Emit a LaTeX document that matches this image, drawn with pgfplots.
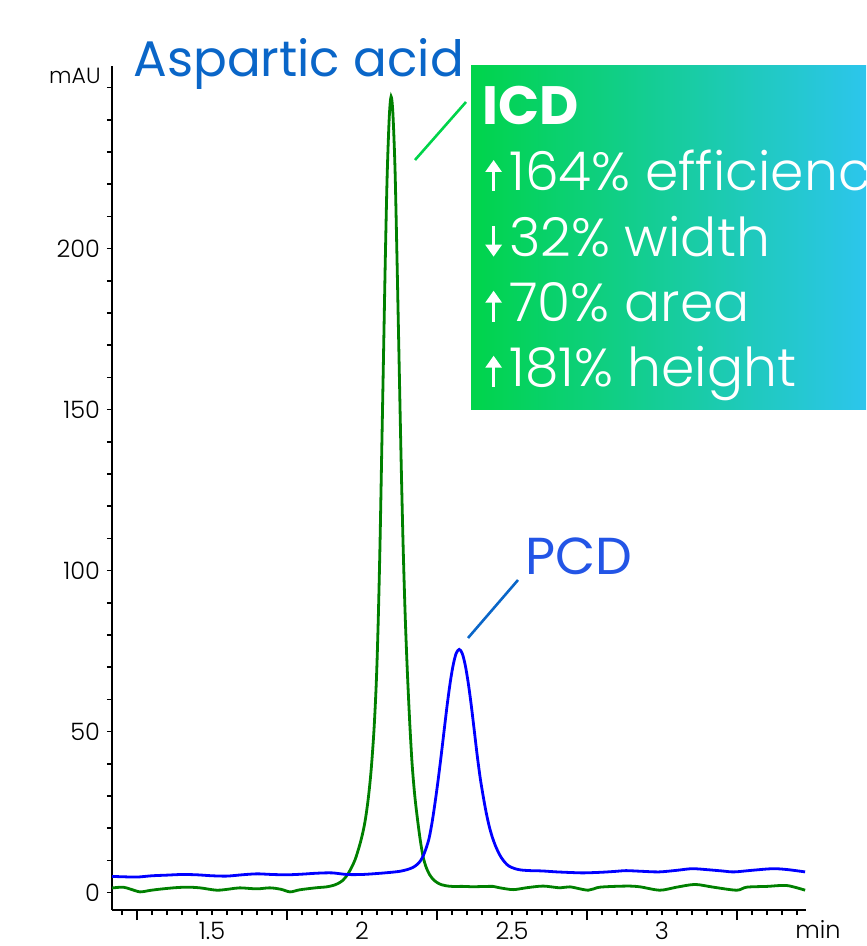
\documentclass[border=0pt]{standalone}
\usepackage{fontspec}
\setmainfont{Poppins}
\newfontfamily\plight{Poppins Light}
\usepackage{pgfplots}
\pgfplotsset{compat=1.18}
\usetikzlibrary{arrows.meta}
\definecolor{cgreen}{RGB}{0,128,0}
\definecolor{cblue}{RGB}{0,0,255}
\definecolor{asptext}{RGB}{10,102,200}
\definecolor{pcdtext}{RGB}{35,85,230}
\definecolor{boxleft}{RGB}{0,212,74}
\definecolor{boxright}{RGB}{48,196,250}
\definecolor{leadgreen}{RGB}{0,212,74}
\begin{document}
\begin{tikzpicture}
\useasboundingbox (-56pt,-18pt) rectangle (377pt,455pt);
\begin{axis}[
  at={(0pt,0pt)}, anchor=south west,
  scale only axis, width=347pt, height=422pt,
  xmin=1.1667, xmax=3.48, ymin=-5.43, ymax=256.7,
  axis x line*=bottom, axis y line*=left,
  axis line style={line width=1.25pt, black},
  xtick={1.5,2,2.5,3}, xticklabels={1.5,2,2.5,3},
  minor xtick={1.2,1.25,1.3,1.35,1.4,1.45,1.55,1.6,1.65,1.7,1.75,1.8,1.85,1.9,1.95,2.05,2.1,2.15,2.2,2.25,2.3,2.35,2.4,2.45,2.55,2.6,2.65,2.7,2.75,2.8,2.85,2.9,2.95,3.05,3.1,3.15,3.2,3.25,3.3,3.35,3.4,3.45},
  ytick={0,50,100,150,200},
  minor ytick={10,20,30,40,60,70,80,90,110,120,130,140,160,170,180,190,210,220,230,240,250},
  extra x ticks={1.25,1.75,2.25,2.75,3.25}, extra x tick labels={},
  extra x tick style={major tick length=5pt},
  tick align=outside, major tick length=2.5pt, minor tick length=2.5pt,
  tick style={black, line width=0.8pt},
  ticklabel style={font=\plight\fontsize{12}{12}\selectfont},
  /pgf/number format/assume math mode=true,
  xticklabel style={yshift=0pt},
]
\addplot[cgreen, line width=1.4pt, smooth] coordinates {
(1.167,1.4) (1.171,1.45) (1.204,1.66) (1.23,1.0) (1.26,0.2) (1.29,0.6) (1.316,0.93)
(1.371,1.45) (1.416,1.66) (1.46,1.45) (1.516,0.72) (1.56,1.1) (1.593,1.45) (1.649,1.14)
(1.693,1.45) (1.73,1.0) (1.76,0.2) (1.79,0.8) (1.816,1.14) (1.85,1.5) (1.882,1.76)
(1.904,2.2) (1.92,2.8) (1.935,3.7) (1.949,5.2) (1.962,7.2) (1.977,10.2) (1.990,14.0)
(2.000,17.5) (2.010,22.0) (2.020,28.5) (2.030,37.5) (2.040,50.5) (2.048,66) (2.054,84)
(2.060,108) (2.066,138) (2.072,168) (2.078,198) (2.084,223) (2.091,241) (2.097,247.2)
(2.103,242) (2.110,225) (2.116,200) (2.123,168) (2.130,136) (2.137,108) (2.144,86)
(2.151,69) (2.159,53) (2.167,40) (2.176,30) (2.186,22) (2.195,15.8) (2.204,11.0)
(2.214,7.8) (2.225,5.6) (2.238,4.0) (2.252,3.0) (2.266,2.4) (2.28,2.1) (2.30,1.9)
(2.337,1.9) (2.371,1.8) (2.437,1.9) (2.46,1.45) (2.504,0.9) (2.55,1.5) (2.604,2.0)
(2.66,1.45) (2.693,1.76) (2.754,0.72) (2.793,1.66) (2.882,2.0) (2.927,1.76) (2.993,0.72)
(3.049,1.66) (3.11,2.5) (3.171,1.66) (3.249,0.72) (3.282,1.66) (3.35,1.9) (3.416,2.17)
(3.477,0.72)
};
\addplot[cblue, line width=1.4pt, smooth] coordinates {
(1.167,5.0) (1.20,4.9) (1.25,4.8) (1.30,5.2) (1.35,5.4) (1.40,5.6) (1.45,5.5) (1.50,5.2)
(1.55,5.1) (1.60,5.5) (1.65,5.8) (1.70,5.6) (1.75,5.5) (1.80,5.7) (1.85,6.0) (1.90,6.1)
(1.95,5.6) (2.00,5.6) (2.05,5.9) (2.10,6.3) (2.127,6.6) (2.15,7.1) (2.17,7.8) (2.185,8.8)
(2.196,10.0) (2.205,11.6) (2.214,13.8) (2.224,17.0) (2.234,22.0) (2.244,28.2) (2.254,35.1)
(2.264,42.6) (2.274,50.5) (2.284,58.3) (2.294,65.2) (2.304,70.7) (2.314,74.3) (2.324,75.5)
(2.334,74.3) (2.344,70.7) (2.354,65.2) (2.364,58.3) (2.374,50.5) (2.384,42.6) (2.394,35.6)
(2.404,29.9) (2.414,24.8) (2.424,20.6) (2.434,17.3) (2.444,14.7) (2.454,12.6) (2.464,10.9)
(2.477,9.3) (2.49,8.2) (2.51,7.4) (2.53,7.0) (2.56,6.8) (2.60,6.7) (2.65,6.4) (2.70,6.2)
(2.74,6.1) (2.80,6.3) (2.85,6.6) (2.88,6.8) (2.93,6.6) (2.99,6.4) (3.05,6.9) (3.10,7.4)
(3.15,7.1) (3.20,6.7) (3.24,6.4) (3.30,6.9) (3.37,7.4) (3.42,7.1) (3.477,6.4)
};
\end{axis}
% annotations
\node[anchor=base west, inner sep=0pt, text=asptext, font=\fontsize{25}{25}\selectfont] at (10.5pt,416.5pt) {Aspartic acid};
\node[anchor=base west, inner sep=0pt, text=pcdtext, font=\fontsize{26}{26}\selectfont] at (206.5pt,167.5pt) {PCD};
\node[anchor=base east, inner sep=0pt, font=\plight\fontsize{11}{11}\selectfont] at (-5.5pt,413pt) {mAU};
\node[anchor=base west, inner sep=0pt, font=\plight\fontsize{12}{12}\selectfont] at (341.5pt,-14pt) {min};
\draw[leadgreen, line width=1.3pt] (151.5pt,375pt) -- (177pt,404pt);
\draw[asptext, line width=1.3pt] (178pt,136pt) -- (203pt,165pt);
\begin{scope}
\clip (179.5pt,250pt) rectangle (377pt,422pt);
\shade[left color=boxleft, right color=boxright] (179.5pt,250pt) rectangle (394pt,422pt);
\node[anchor=base west, inner sep=0pt, text=white, font=\bfseries\fontsize{27}{27}\selectfont] at (185pt,392.5pt) {ICD};
\node[anchor=base west, inner sep=0pt, text=white, font=\plight\fontsize{26.8}{26.8}\selectfont] at (198.5pt,359.5pt) {164\% efficiency};
\node[anchor=base west, inner sep=0pt, text=white, font=\plight\fontsize{26.8}{26.8}\selectfont] at (198.5pt,326.65pt) {32\% width};
\node[anchor=base west, inner sep=0pt, text=white, font=\plight\fontsize{26.8}{26.8}\selectfont] at (198.5pt,294.15pt) {70\% area};
\node[anchor=base west, inner sep=0pt, text=white, font=\plight\fontsize{26.8}{26.8}\selectfont] at (198.5pt,261.65pt) {181\% height};
\draw[white, line width=1.4pt, -{Triangle[width=8pt,length=6pt]}] (190.8pt,359.5pt) -- (190.8pt,375pt);
\draw[white, line width=1.4pt, -{Triangle[width=8pt,length=6pt]}] (190.8pt,342pt) -- (190.8pt,326.65pt);
\draw[white, line width=1.4pt, -{Triangle[width=8pt,length=6pt]}] (190.8pt,294.15pt) -- (190.8pt,309.65pt);
\draw[white, line width=1.4pt, -{Triangle[width=8pt,length=6pt]}] (190.8pt,261.65pt) -- (190.8pt,277.15pt);
\end{scope}
\end{tikzpicture}
\end{document}
